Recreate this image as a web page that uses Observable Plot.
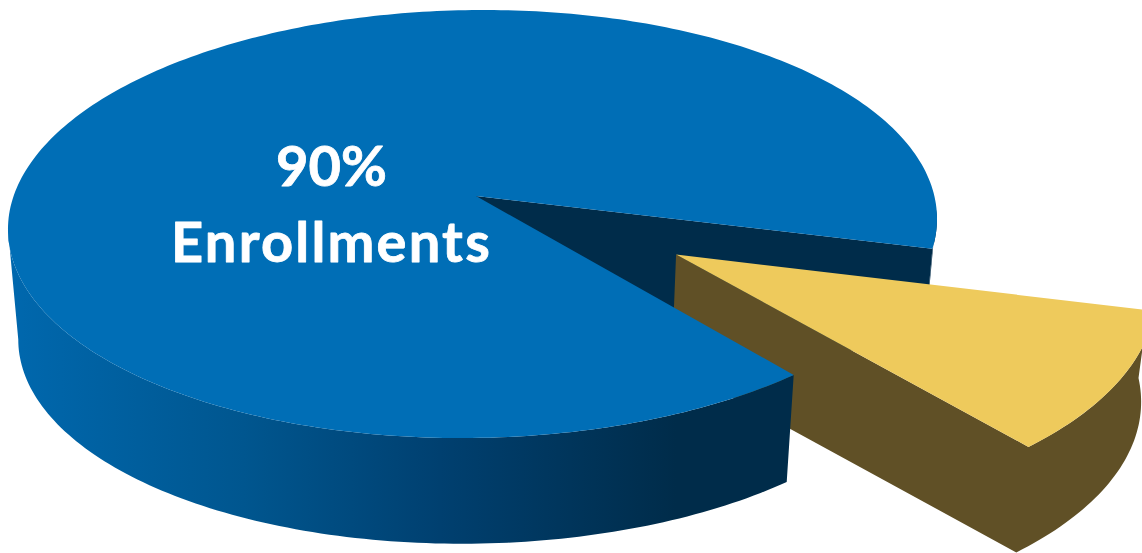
<!DOCTYPE html>
<html>
<head>
<meta charset="utf-8">
<script src="https://cdn.jsdelivr.net/npm/d3@7"></script>
<script src="https://cdn.jsdelivr.net/npm/@observablehq/plot@0.6"></script>
<style>
  html, body { margin: 0; padding: 0; background: #fff; overflow: hidden; }
  svg { display: block; }
</style>
</head>
<body>
<div id="chart"></div>
<script>
// Pie values
const categories = ["Enrollments", "Other"];
const shares = [90, 10];

// Fill colours
const blueTop = "#006eb6";
const blueWall = "#002c4a";
const goldTop = "#eeca5c";
const goldSide = "#605026";
const labelColor = "#ffffff";

// Camera: a planar perspective from the unit disk to the page
const width = 1142, height = 553;
const hub = {x: 476, y: 196};
const radiusX = 460.5, radiusY = 210.3, twist = -5;
const tiltV = 0.1308, tiltU = 0.0075;
const thickness = 111, floorScale = 0.978;
const explode = {u: 0.42, v: 0.279};
const startAngle = 15.5;
const rightTangent = 5, leftTangent = 172.5;

const rad = (deg) => deg * Math.PI / 180;

// Project a disk point to the page, on the top face (z = 1) or the floor (z = 0)
function project(u, v, z) {
  const w = 1 - tiltV * v + tiltU * u;
  const s = z ? 1 : floorScale;
  return {
    x: hub.x + s * radiusX * u / w,
    y: hub.y + (z ? 0 : thickness) + s * (radiusY * v + twist * u) / w
  };
}

// Angles of the smaller slice follow from its share of the total
const total = d3.sum(shares);
const sweep = 360 * shares[1] / total;
const endAngle = startAngle + sweep;

function rim(a0, a1, off, z) {
  const n = Math.max(2, Math.ceil(Math.abs(a1 - a0)));
  return d3.range(n + 1).map((i) => {
    const a = rad(a0 + (a1 - a0) * i / n);
    return project(off.u + Math.cos(a), off.v + Math.sin(a), z);
  });
}

// Ribbon between two polylines: the area mark closes it into a polygon
function ribbon(a, b) {
  return a.map((p, i) => ({x1: p.x, y1: p.y, x2: b[i].x, y2: b[i].y}));
}
const fan = (center, arc) => ribbon(arc.map(() => center), arc);
const polygon = (arr, opts) => Plot.area(arr, {x1: "x1", y1: "y1", x2: "x2", y2: "y2", curve: "linear", ...opts});

const origin = {u: 0, v: 0};

// Large slice
const bigArc = rim(endAngle, startAngle + 360, origin, 1);
const bigTop = fan(project(0, 0, 1), bigArc);
const bigFront = ribbon(rim(endAngle, leftTangent, origin, 1), rim(endAngle, leftTangent, origin, 0));
const bigBack = ribbon(rim(rightTangent, startAngle, origin, 1), rim(rightTangent, startAngle, origin, 0));
const cutWall = ribbon(
  [project(0, 0, 1), rim(startAngle, startAngle, origin, 1)[0]],
  [project(0, 0, 0), rim(startAngle, startAngle, origin, 0)[0]]
);

// Pulled-out slice: its wall runs from the hub along one edge and round the rim
const smallArc = rim(startAngle, endAngle, explode, 1);
const smallTop = fan(project(explode.u, explode.v, 1), smallArc);
const smallSide = ribbon(
  [project(explode.u, explode.v, 1), ...rim(endAngle, rightTangent, explode, 1)],
  [project(explode.u, explode.v, 0), ...rim(endAngle, rightTangent, explode, 0)]
);

// Horizontal shading of the outer wall, defined once and referenced by fill
const shade = () => {
  const defs = d3.create("svg:defs");
  const g = defs.append("linearGradient").attr("id", "wallShade");
  [[0, "#0068ae"], [0.3, "#00568f"], [0.55, "#004070"], [0.85, "#002c4a"], [1, "#002c4a"]]
    .forEach(([o, c]) => g.append("stop").attr("offset", o).attr("stop-color", c));
  return defs.node();
};

const chart = Plot.plot({
  width, height,
  margin: 0,
  x: {domain: [0, width], range: [0, width], axis: null},
  y: {domain: [0, height], range: [0, height], axis: null},
  style: {background: "#fff"},
  marks: [
    shade,
    polygon(cutWall, {fill: blueWall}),
    polygon(bigBack, {fill: blueWall}),
    polygon(smallSide, {fill: goldSide}),
    polygon(smallTop, {fill: goldTop}),
    polygon(bigFront, {fill: "url(#wallShade)"}),
    polygon(bigTop, {fill: blueTop}),
    Plot.text([`${shares[0]}%`, categories[0]], {
      x: 331,
      y: (d, i) => [168, 244][i],
      text: (d) => d,
      fill: labelColor,
      stroke: labelColor,
      strokeWidth: 0.8,
      fontFamily: "Lato",
      fontWeight: 700,
      fontSize: 56
    })
  ]
});
// The category label is set a little wider than the percentage above it
d3.select(chart).selectAll("text").filter(function () {
  return this.textContent === categories[0];
}).style("letter-spacing", "2.2px");
document.getElementById("chart").appendChild(chart);
</script>
</body>
</html>
